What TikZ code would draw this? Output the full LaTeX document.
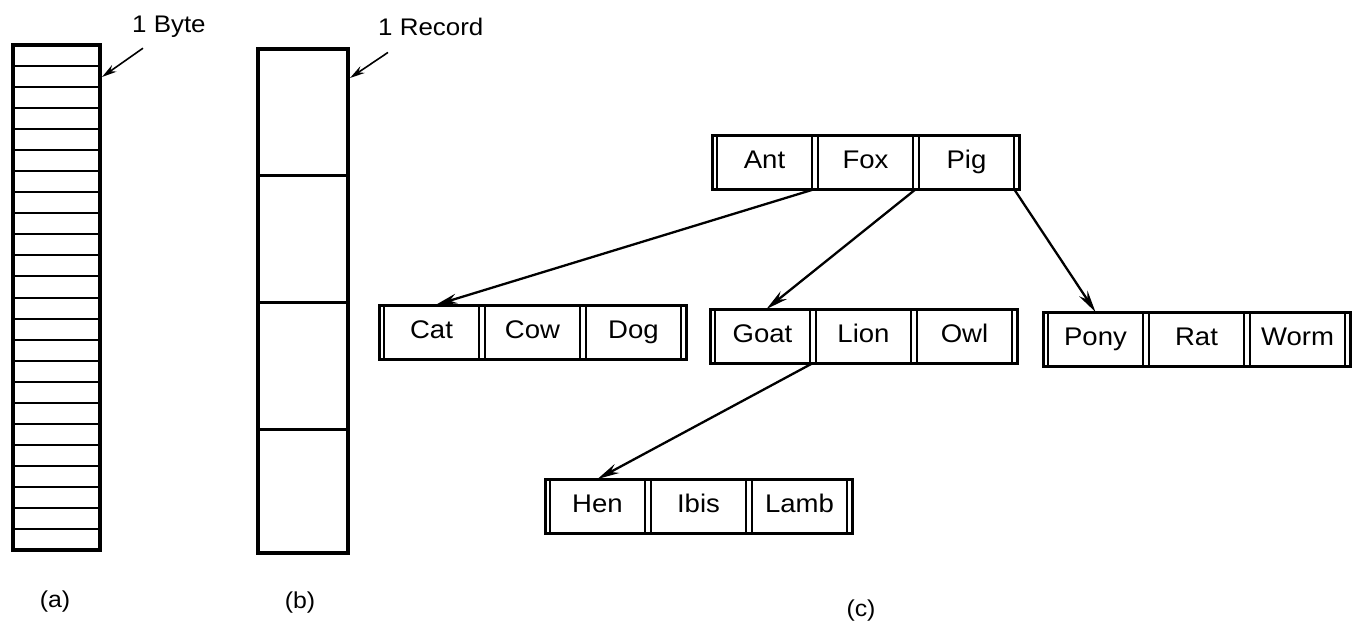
\documentclass[tikz,border=0pt]{standalone}
\usepackage{fontspec}
\setmainfont{Liberation Sans}[FakeStretch=1.08]
\usetikzlibrary{arrows.meta,calc,fit}
\newcommand\keyrow[6]{%
  \node[cell] (#1a) at (#2+52.5,#3+27) {#4};
  \node[cell] (#1b) at (#2+153.5,#3+27) {#5};
  \node[cell] (#1c) at (#2+254.5,#3+27) {#6};
  \node[keybox, fit=(#1a)(#1c)] (#1box) {};
}
\begin{document}
\begin{tikzpicture}[x=1pt,y=-1pt,
  cell/.style={draw, line width=2.5pt, minimum width=95pt, minimum height=54pt,
    inner sep=0pt, outer sep=0pt, text height=18pt, text depth=5pt,
    font=\fontsize{25.5}{30}\selectfont},
  keybox/.style={draw, line width=3pt, inner xsep=5pt, inner ysep=0pt, outer sep=0pt},
  ptr/.style={line width=2.3pt, -{Stealth[length=22pt,width=10pt]}},
  note/.style={line width=1.6pt, -{Stealth[length=15pt,width=8pt]}},
  lbl/.style={font=\fontsize{24}{28}\selectfont, inner sep=0pt},
  figcaption/.style={font=\fontsize{23}{27}\selectfont, inner sep=0pt}]
\useasboundingbox (0,0) rectangle (1353,624);

% (a) byte sequence
\draw[line width=3.5pt] (13,45) rectangle (100,550);
\foreach \k in {1,...,23} \draw[line width=2pt] (13,45+\k*505/24) -- (100,45+\k*505/24);
\node[lbl, anchor=base west] (byte) at (132,32) {1 Byte};
\coordinate (bytetip) at (102,77);
\draw[note] ([xshift=11pt,yshift=-11pt]byte.south west) -- (bytetip);

% (b) record sequence
\draw[line width=3.5pt] (258,49) rectangle (348,553);
\foreach \yy in {175,302,429} \draw[line width=3pt] (258,\yy) -- (348,\yy);
\node[lbl, anchor=base west] (rec) at (378,35) {1 Record};
\coordinate (rectip) at (350,78);
\draw[note] ([xshift=10pt,yshift=-17pt]rec.south west) -- (rectip);

% (c) tree
\keyrow{r}{712}{135}{Ant}{Fox}{Pig}
\keyrow{c}{379}{305}{Cat}{Cow}{Dog}
\keyrow{g}{710}{309}{Goat}{Lion}{Owl}
\keyrow{p}{1043}{312}{Pony}{Rat}{Worm}
\keyrow{h}{545}{479}{Hen}{Ibis}{Lamb}

\draw[ptr] ($(ra.south east)!0.5!(rb.south west)$) -- ([xshift=4pt]ca.north);
\draw[ptr] ($(rb.south east)!0.5!(rc.south west)$) -- ([xshift=4pt]ga.north);
\draw[ptr] (rc.south east) -- (pa.north);
\draw[ptr] ($(ga.south east)!0.5!(gb.south west)$) -- (ha.north);

% captions
\node[figcaption] (la) at (55,602) {(a)};
\node[figcaption] (lb) at (300,603) {(b)};
\node[figcaption] (lc) at (861,611) {(c)};
\end{tikzpicture}
\end{document}
